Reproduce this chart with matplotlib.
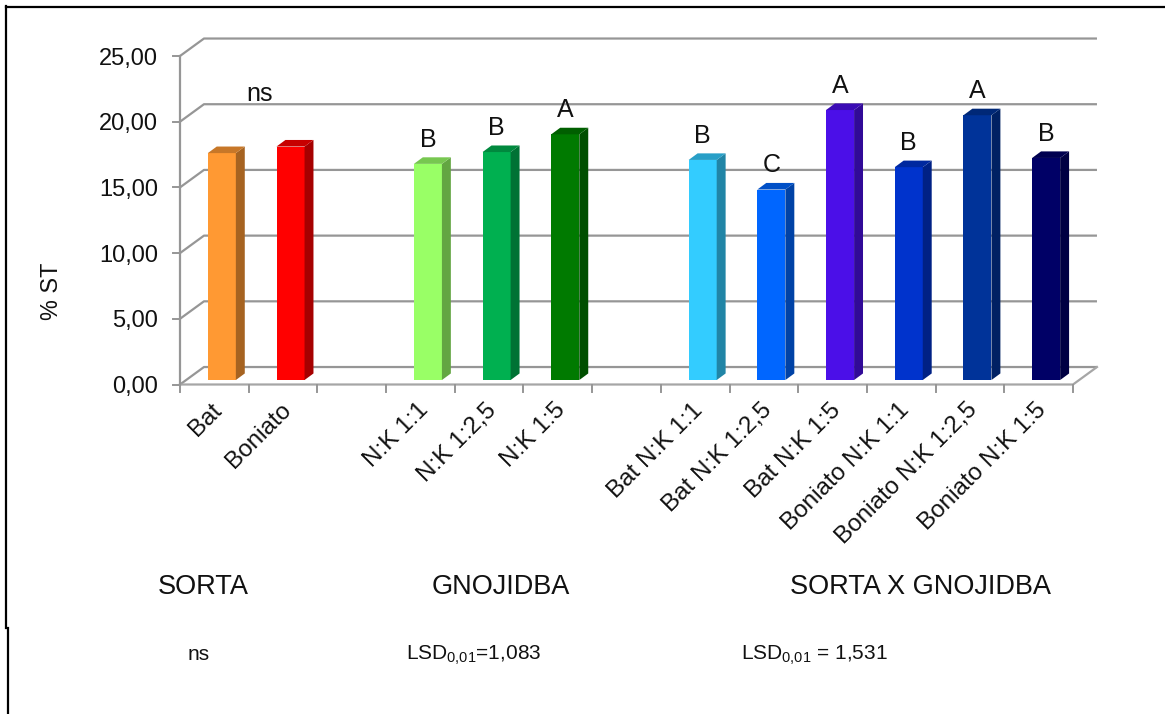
import matplotlib
matplotlib.use('Agg')
import matplotlib.pyplot as plt
from matplotlib.colors import to_rgb
from matplotlib.lines import Line2D

plt.rcParams['font.family'] = ['Liberation Sans', 'DejaVu Sans']
plt.rcParams['mathtext.fontset'] = 'custom'
plt.rcParams['mathtext.rm'] = 'Liberation Sans'
plt.rcParams['mathtext.default'] = 'regular'

# data
categories = ['Bat', 'Boniato', '', 'N:K 1:1', 'N:K 1:2,5', 'N:K 1:5', '',
              'Bat N:K 1:1', 'Bat N:K 1:2,5', 'Bat N:K 1:5',
              'Boniato N:K 1:1', 'Boniato N:K 1:2,5', 'Boniato N:K 1:5']
values = [17.27, 17.77, None, 16.45, 17.35, 18.7, None,
          16.75, 14.5, 20.55, 16.2, 20.15, 16.9]
letters = ['', '', '', 'B', 'B', 'A', '', 'B', 'C', 'A', 'B', 'A', 'B']
colors = ['#ff9933', '#ff0000', None, '#99ff66', '#00b050', '#007a00', None,
          '#33ccff', '#0066ff', '#4b0fe8', '#0033cc', '#003399', '#000066']
y_ticks = [0, 5, 10, 15, 20, 25]
y_tick_labels = ['0,00', '5,00', '10,00', '15,00', '20,00', '25,00']

W, H = 1165, 714
GRID = '#969696'


def fx(x):
    return x / W


def fy(y):
    return 1 - y / H


def shade(color, k):
    return tuple(c * k for c in to_rgb(color))


fig = plt.figure(figsize=(W / 100, H / 100), dpi=100)
ax = fig.add_axes([fx(180), fy(384.5), fx(1073 - 180), (384.5 - 56) / H])
ax.set_xlim(0, len(categories))
ax.set_ylim(0, 25)
ax.axis('off')

# depth of the fake 3D box and of the bars, in data units
box_dx, box_dy = 0.349, 1.33
bar_dx, bar_dy = 0.13, 0.5
bar_w = 0.408
bar_off = 0.405
bar_base = 0.34
n = len(categories)

# back wall, floor and axis
for t in y_ticks:
    ax.plot([0, box_dx, n + box_dx], [t, t + box_dy, t + box_dy], color=GRID, lw=1.6,
            clip_on=False, zorder=1, solid_capstyle='butt')
    ax.plot([-0.1, 0], [t, t], color=GRID, lw=1.4, clip_on=False, zorder=1)
ax.plot([0, n, n + box_dx], [0, 0, box_dy], color='#a6a6a6', lw=1.6, clip_on=False, zorder=1)
ax.plot([0, 0], [0, 25], color=GRID, lw=1.6, clip_on=False, zorder=1)
for i in range(n + 1):
    ax.plot([i, i], [0, -0.55], color=GRID, lw=1.4, clip_on=False, zorder=1)

# bars
for i, v in enumerate(values):
    if v is None:
        continue
    left = i + bar_off
    right = left + bar_w
    top = bar_base + v
    ax.bar(left, v, width=bar_w, bottom=bar_base, align='edge', color=colors[i], zorder=3)
    ax.fill([right, right + bar_dx, right + bar_dx, right],
            [bar_base, bar_base + bar_dy, top + bar_dy, top],
            color=shade(colors[i], 0.65), lw=0, zorder=3)
    ax.fill([left, left + bar_dx, right + bar_dx, right],
            [top, top + bar_dy, top + bar_dy, top],
            color=shade(colors[i], 0.78), lw=0, zorder=3)
    if letters[i]:
        ax.text(left + bar_w / 2, top + bar_dy + 0.8, letters[i], fontsize=18,
                ha='center', va='baseline', color='#111111', zorder=4)

ax.text(1.16, 21.57, 'ns', fontsize=18, ha='center', va='baseline', color='#111111')

# axis labels
for t, lab in zip(y_ticks, y_tick_labels):
    ax.text(-0.32, t, lab, fontsize=17, ha='right', va='center_baseline', color='#111111')
for i, lab in enumerate(categories):
    if lab:
        ax.text(i + 0.45, -1.1, lab, fontsize=17.5, rotation=45, ha='right', va='top',
                rotation_mode='anchor', color='#111111')

fig.text(fx(52), fy(291), '% ST', fontsize=16.8, rotation=90, ha='center', va='center',
         color='#111111')

# captions below the chart
fig.text(fx(203), fy(594), 'SORTA', fontsize=19.5, ha='center', va='baseline', color='#111111')
fig.text(fx(501), fy(594), 'GNOJIDBA', fontsize=19.5, ha='center', va='baseline', color='#111111')
fig.text(fx(920), fy(594), 'SORTA X GNOJIDBA', fontsize=19.5, ha='center', va='baseline',
         color='#111111')
fig.text(fx(199), fy(660), 'ns', fontsize=15, ha='center', va='baseline', color='#111111')
fig.text(fx(406), fy(660), r'LSD$_{0{,}01}$=1,083', fontsize=15, ha='left', va='baseline',
         color='#111111')
fig.text(fx(741), fy(660), r'LSD$_{0{,}01}$ = 1,531', fontsize=15, ha='left', va='baseline',
         color='#111111')

# black frame left over from the document
frame = [([6, W], [7, 7]), ([6, 6], [6, 628]), ([7.5, 7.5], [628, H])]
for xs, ys in frame:
    fig.add_artist(Line2D([fx(x) for x in xs], [fy(y) for y in ys], color='black', lw=1.6,
                          transform=fig.transFigure))

fig.savefig('out.png', dpi=100, facecolor='white')
